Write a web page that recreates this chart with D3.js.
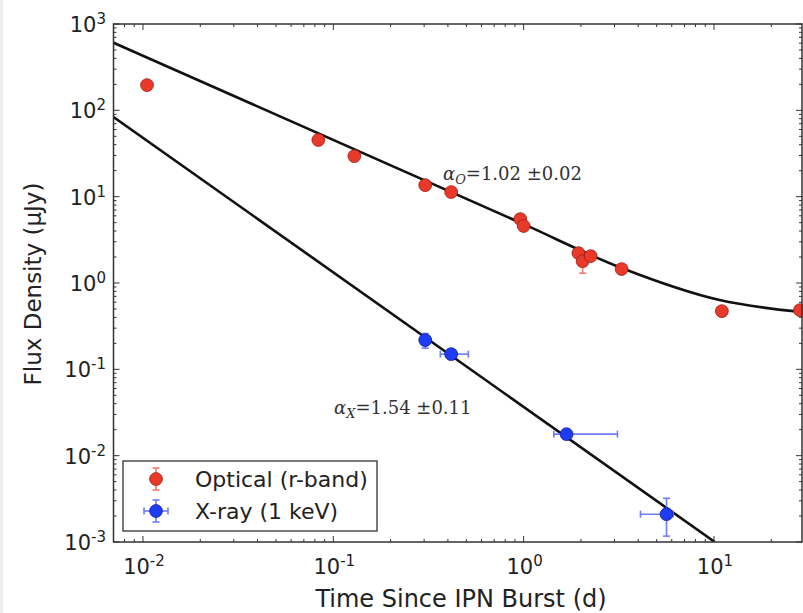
<!DOCTYPE html>
<html>
<head>
<meta charset="utf-8">
<script src="https://cdn.jsdelivr.net/npm/d3@7"></script>
<style>
  body { margin: 0; background: #fff; }
  svg { display: block; }
  text { font-family: "DejaVu Sans", sans-serif; fill: #222; }
</style>
</head>
<body>
<svg id="chart" width="803" height="613"></svg>
<script>
// optical (r-band) detections, days and microJy
const optT  = [0.0105, 0.0834, 0.129, 0.304, 0.416, 0.96, 1.0, 1.94, 2.04, 2.25, 3.27, 11.0, 28.3];
const optF  = [196, 45.3, 29.5, 13.6, 11.3, 5.5, 4.57, 2.22, 1.79, 2.05, 1.45, 0.472, 0.485];
const optLo = [190, 44, 28.5, 13.2, 11, 5.3, 4.4, 2.1, 1.30, 1.95, 1.4, 0.45, 0.46];
const optHi = [202, 46.5, 30.5, 14, 11.6, 5.7, 4.75, 2.35, 2.2, 2.15, 1.5, 0.5, 0.51];

// x-ray (1 keV)
const xrT   = [0.304, 0.416, 1.68, 5.63];
const xrF   = [0.218, 0.150, 0.01775, 0.0021];
const xrTLo = [0.295, 0.365, 1.44, 4.11];
const xrTHi = [0.313, 0.512, 3.11, 6.1];
const xrFLo = [0.176, 0.142, 0.0168, 0.00117];
const xrFHi = [0.26, 0.158, 0.0188, 0.00321];

// fitted curves
const optFitT = [0.007, 1, 3.27, 10.7, 29];
const optFitF = [607, 4.8, 1.49, 0.634, 0.46];
const xrFitT  = [0.007, 10.1];
const xrFitF  = [83.6, 0.001];

const xTicks = [0.01, 0.1, 1, 10];
const xTickExp = ["-2", "-1", "0", "1"];
const yTicks = [1e-3, 1e-2, 1e-1, 1, 10, 100, 1000];
const yTickExp = ["-3", "-2", "-1", "0", "1", "2", "3"];

const labels = {
    x: "Time Since IPN Burst (d)",
    y: "Flux Density (\u03bcJy)",
    opt: "Optical (r-band)",
    xr: "X-ray (1 keV)"
};

const colors = {
    opt: "#e8392a", optEdge: "#9e1d10", optErr: "#f07a70",
    xr: "#1f3cf5", xrEdge: "#0c1c9a", xrErr: "#6f7cff"
};

const svg = d3.select("#chart");
const W = +svg.attr("width"), H = +svg.attr("height");
const box = { left: 113.5, right: 802, top: 24, bottom: 542 };

const x = d3.scaleLog([0.007, 29], [box.left, box.right]);
const y = d3.scaleLog([1e-3, 1e3], [box.bottom, box.top]);

// faint strip at the very left (crop edge of the original figure)
svg.append("rect").attr("x", 0).attr("y", 0).attr("width", 3).attr("height", H).attr("fill", "#eeeeee");

svg.append("defs").append("clipPath").attr("id", "clip")
    .append("rect")
    .attr("x", box.left).attr("y", box.top)
    .attr("width", box.right - box.left).attr("height", box.bottom - box.top);

// minor / major tick positions
const minor = (lo, hi) => {
    let out = [];
    for (let e = Math.floor(Math.log10(lo)); e <= Math.ceil(Math.log10(hi)); e++) {
        for (let m = 2; m <= 9; m++) {
            let v = m * Math.pow(10, e);
            if (v >= lo && v <= hi) out.push(v);
        }
    }
    return out;
};

const tickG = svg.append("g").attr("stroke", "#333").attr("stroke-width", 1);

xTicks.forEach(v => {
    tickG.append("line").attr("x1", x(v)).attr("x2", x(v)).attr("y1", box.bottom).attr("y2", box.bottom - 6);
    tickG.append("line").attr("x1", x(v)).attr("x2", x(v)).attr("y1", box.top).attr("y2", box.top + 6);
});
minor(0.007, 29).forEach(v => {
    tickG.append("line").attr("x1", x(v)).attr("x2", x(v)).attr("y1", box.bottom).attr("y2", box.bottom - 3);
    tickG.append("line").attr("x1", x(v)).attr("x2", x(v)).attr("y1", box.top).attr("y2", box.top + 3);
});
yTicks.forEach(v => {
    tickG.append("line").attr("x1", box.left).attr("x2", box.left + 6).attr("y1", y(v)).attr("y2", y(v));
    tickG.append("line").attr("x1", box.right).attr("x2", box.right - 6).attr("y1", y(v)).attr("y2", y(v));
});
minor(1e-3, 1e3).forEach(v => {
    tickG.append("line").attr("x1", box.left).attr("x2", box.left + 3).attr("y1", y(v)).attr("y2", y(v));
    tickG.append("line").attr("x1", box.right).attr("x2", box.right - 3).attr("y1", y(v)).attr("y2", y(v));
});

// tick labels as 10^n
const powLabel = (g, exp, anchor) => {
    let t = g.append("text").attr("text-anchor", anchor).style("font-size", "21px");
    t.append("tspan").text("10");
    t.append("tspan").attr("dy", -8).style("font-size", "15px").text(exp);
    return t;
};

xTicks.forEach((v, i) => {
    let g = svg.append("g").attr("transform", `translate(${x(v) + 1}, 574)`);
    powLabel(g, xTickExp[i], "middle");
});
yTicks.forEach((v, i) => {
    let g = svg.append("g").attr("transform", `translate(106, ${y(v) + 8})`);
    powLabel(g, yTickExp[i], "end");
});

// axis titles
svg.append("text")
    .attr("x", 461).attr("y", 607)
    .attr("text-anchor", "middle").style("font-size", "24px")
    .text(labels.x);

svg.append("text")
    .attr("transform", `translate(41, 284) rotate(-90)`)
    .attr("text-anchor", "middle").style("font-size", "23px")
    .text(labels.y);

// fit lines
const line = d3.line().x(d => x(d[0])).y(d => y(d[1])).curve(d3.curveMonotoneX);
const plot = svg.append("g").attr("clip-path", "url(#clip)");

plot.append("path")
    .datum(optFitT.map((t, i) => [t, optFitF[i]]))
    .attr("d", line).attr("fill", "none").attr("stroke", "#111").attr("stroke-width", 2.6);

plot.append("path")
    .datum(xrFitT.map((t, i) => [t, xrFitF[i]]))
    .attr("d", line).attr("fill", "none").attr("stroke", "#111").attr("stroke-width", 2.6);

// error bars with caps
const errBar = (g, x1, y1, x2, y2, col, vertical) => {
    g.append("line").attr("x1", x1).attr("y1", y1).attr("x2", x2).attr("y2", y2)
        .attr("stroke", col).attr("stroke-width", 1.6);
    [[x1, y1], [x2, y2]].forEach(p => {
        if (vertical) {
            g.append("line").attr("x1", p[0] - 3.5).attr("x2", p[0] + 3.5).attr("y1", p[1]).attr("y2", p[1])
                .attr("stroke", col).attr("stroke-width", 1.6);
        } else {
            g.append("line").attr("x1", p[0]).attr("x2", p[0]).attr("y1", p[1] - 3.5).attr("y2", p[1] + 3.5)
                .attr("stroke", col).attr("stroke-width", 1.6);
        }
    });
};

const optData = optT.map((t, i) => ({ t: t, f: optF[i], lo: optLo[i], hi: optHi[i] }));
const xrData = xrT.map((t, i) => ({ t: t, f: xrF[i], tlo: xrTLo[i], thi: xrTHi[i], lo: xrFLo[i], hi: xrFHi[i] }));

const errG = svg.append("g");
optData.forEach(d => errBar(errG, x(d.t), y(d.lo), x(d.t), y(d.hi), colors.optErr, true));
xrData.forEach(d => {
    errBar(errG, x(d.t), y(d.lo), x(d.t), y(d.hi), colors.xrErr, true);
    errBar(errG, x(d.tlo), y(d.f), x(d.thi), y(d.f), colors.xrErr, false);
});

svg.append("g").selectAll("circle").data(optData).enter()
    .append("circle")
    .attr("cx", d => x(d.t)).attr("cy", d => y(d.f)).attr("r", 6.4)
    .attr("fill", colors.opt).attr("stroke", colors.optEdge).attr("stroke-width", 0.8);

svg.append("g").selectAll("circle").data(xrData).enter()
    .append("circle")
    .attr("cx", d => x(d.t)).attr("cy", d => y(d.f)).attr("r", 6.4)
    .attr("fill", colors.xr).attr("stroke", colors.xrEdge).attr("stroke-width", 0.8);

// annotations (slopes)
const slopeText = (px, py, sub, val) => {
    let t = svg.append("text").attr("x", px).attr("y", py)
        .style("font-family", "'DejaVu Serif', serif").style("font-size", "18px").style("fill", "#333");
    t.append("tspan").style("font-style", "italic").text("\u03b1");
    t.append("tspan").attr("dy", 4).style("font-style", "italic").style("font-size", "13px").text(sub);
    t.append("tspan").attr("dy", -4).text("=" + val);
};
slopeText(443, 180, "O", "1.02 \u00b10.02");
slopeText(334, 414, "X", "1.54 \u00b10.11");

// axes frame
svg.append("rect")
    .attr("x", box.left).attr("y", box.top)
    .attr("width", box.right - box.left).attr("height", box.bottom - box.top)
    .attr("fill", "none").attr("stroke", "#333").attr("stroke-width", 1.5);

// legend
const leg = svg.append("g");
leg.append("rect").attr("x", 123).attr("y", 461).attr("width", 254).attr("height", 70)
    .attr("fill", "#fff").attr("stroke", "#333").attr("stroke-width", 1.3);

const legItems = [
    { label: labels.opt, fill: colors.opt, edge: colors.optEdge, err: colors.optErr, ly: 479, hor: false },
    { label: labels.xr, fill: colors.xr, edge: colors.xrEdge, err: colors.xrErr, ly: 511, hor: true }
];
legItems.forEach(it => {
    errBar(leg, 156, it.ly - 11, 156, it.ly + 11, it.err, true);
    if (it.hor) errBar(leg, 144, it.ly, 168, it.ly, it.err, false);
    leg.append("circle").attr("cx", 156).attr("cy", it.ly).attr("r", 6.4)
        .attr("fill", it.fill).attr("stroke", it.edge).attr("stroke-width", 0.8);
    leg.append("text").attr("x", 195).attr("y", it.ly + 8).style("font-size", "22px").text(it.label);
});
</script>
</body>
</html>
